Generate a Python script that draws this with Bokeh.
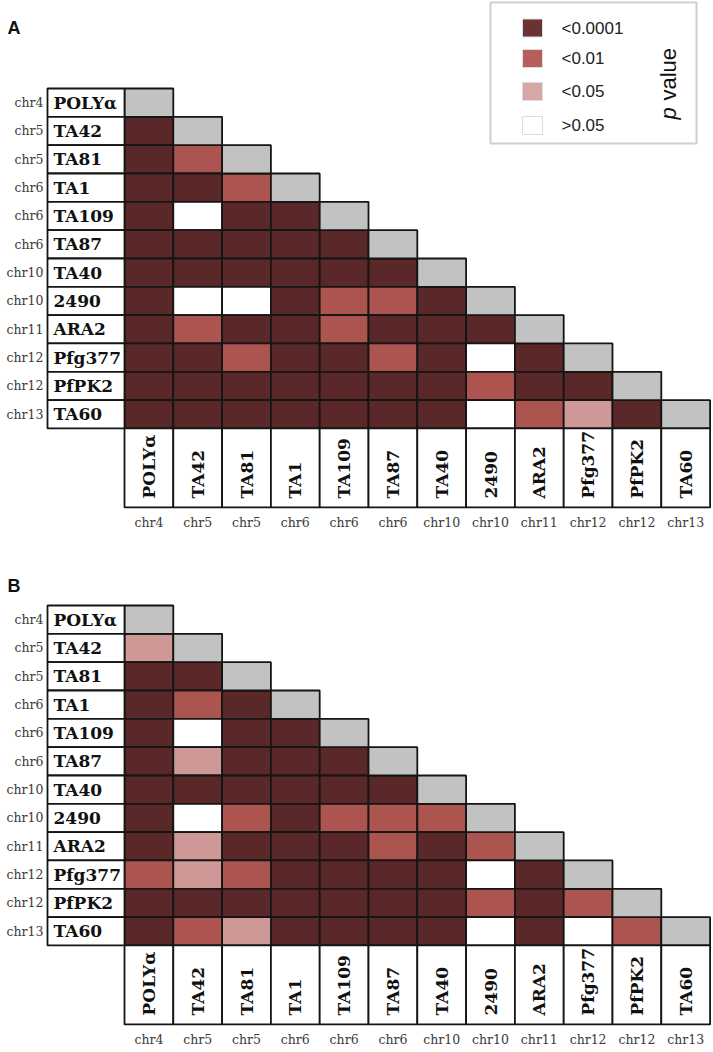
import math
from bokeh.plotting import figure
from bokeh.layouts import column
from bokeh.models import Range1d
from bokeh.core.properties import value
from bokeh.embed import file_html
from bokeh.resources import INLINE

# ---------------- data ----------------
markers = ["POLYα", "TA42", "TA81", "TA1", "TA109", "TA87", "TA40",
           "2490", "ARA2", "Pfg377", "PfPK2", "TA60"]
chroms = ["chr4", "chr5", "chr5", "chr6", "chr6", "chr6", "chr10",
          "chr10", "chr11", "chr12", "chr12", "chr13"]
levels = ["<0.0001", "<0.01", "<0.05", ">0.05"]

# p-value class per pair (row marker i vs column marker j, j < i)
# 0: <0.0001, 1: <0.01, 2: <0.05, 3: >0.05
codes_a = [
    [0],
    [0, 1],
    [0, 0, 1],
    [0, 3, 0, 0],
    [0, 0, 0, 0, 0],
    [0, 0, 0, 0, 0, 0],
    [0, 3, 3, 0, 1, 1, 0],
    [0, 1, 0, 0, 1, 0, 0, 0],
    [0, 0, 1, 0, 0, 1, 0, 3, 0],
    [0, 0, 0, 0, 0, 0, 0, 1, 0, 0],
    [0, 0, 0, 0, 0, 0, 0, 3, 1, 2, 0],
]
codes_b = [
    [2],
    [0, 0],
    [0, 1, 0],
    [0, 3, 0, 0],
    [0, 2, 0, 0, 0],
    [0, 0, 0, 0, 0, 0],
    [0, 3, 1, 0, 1, 1, 1],
    [0, 2, 0, 0, 0, 1, 0, 1],
    [1, 2, 1, 0, 0, 0, 0, 3, 0],
    [0, 0, 0, 0, 0, 0, 0, 1, 0, 1],
    [0, 1, 2, 0, 0, 0, 0, 3, 0, 3, 1],
]

# ---------------- style ----------------
PALETTE = ["#5a2828", "#ab5450", "#cd9896", "#ffffff"]
LEG_PALETTE = ["#6a3230", "#b55e5a", "#d8a6a5", "#ffffff"]
GRAY = "#c2c2c2"
EDGE = "#151515"
SERIF = value("DejaVu Serif")
SANS = value("Liberation Sans")

CW = 48.8      # px per column
RH = 28.33     # px per row
GRID_LEFT = 124  # page px of first column
FIG_W = 713
X_START = (0 - GRID_LEFT) / CW
X_END = (FIG_W - GRID_LEFT) / CW


def make_panel(letter, codes, fig_h, fig_top, grid_top, letter_y, legend=False):
    off = grid_top - fig_top
    p = figure(width=FIG_W, height=fig_h,
               x_range=Range1d(X_START, X_END),
               y_range=Range1d((fig_h - off) / RH, -off / RH),
               output_backend="svg", toolbar_location=None,
               x_axis_location=None, y_axis_location=None,
               min_border=0, background_fill_color="white",
               border_fill_color="white")
    p.grid.visible = False
    p.outline_line_color = None

    n = len(markers)

    def px(xp):
        return (xp - GRID_LEFT) / CW

    def py(yp):
        return (yp - grid_top) / RH

    # off-diagonal cells
    L, R, T, B, C = [], [], [], [], []
    for i, row in enumerate(codes, start=1):
        for j, c in enumerate(row):
            L.append(j); R.append(j + 1); T.append(i); B.append(i + 1)
            C.append(PALETTE[c])
    p.quad(left=L, right=R, top=T, bottom=B, fill_color=C,
           line_color=EDGE, line_width=1.8)
    # diagonal
    idx = list(range(n))
    p.quad(left=idx, right=[k + 1 for k in idx], top=idx,
           bottom=[k + 1 for k in idx], fill_color=GRAY,
           line_color=EDGE, line_width=1.8)

    # row label boxes
    lab_left = px(47)
    p.quad(left=lab_left, right=0, top=idx, bottom=[k + 1 for k in idx],
           fill_color="white", line_color=EDGE, line_width=1.8)
    p.text(x=lab_left + 6 / CW, y=[k + 0.5 for k in idx], text=markers,
           text_font=SERIF, text_font_style="bold", text_font_size="17px",
           text_align="left", text_baseline="middle", text_color="#111111")
    p.text(x=lab_left - 4 / CW, y=[k + 0.5 for k in idx], text=chroms,
           text_font=SERIF, text_font_size="12.5px", text_align="right",
           text_baseline="middle", text_color="#3a3a3a")

    # column label boxes
    box_h = 79 / RH
    p.quad(left=idx, right=[k + 1 for k in idx], top=n, bottom=n + box_h,
           fill_color="white", line_color=EDGE, line_width=1.8)
    p.text(x=[k + 0.5 for k in idx], y=n + box_h - 9 / RH, text=markers,
           angle=math.pi / 2, text_font=SERIF, text_font_style="bold",
           text_font_size="17px", text_align="left", text_baseline="middle",
           text_color="#111111")
    p.text(x=[k + 0.5 for k in idx], y=n + box_h + 15 / RH, text=chroms,
           text_font=SERIF, text_font_size="12.5px", text_align="center",
           text_baseline="middle", text_color="#3a3a3a")

    # panel letter
    p.text(x=px(7), y=py(letter_y), text=[letter], text_font=SANS,
           text_font_style="bold", text_font_size="18px", text_align="left",
           text_baseline="middle", text_color="#111111")

    if legend:
        p.quad(left=px(490), right=px(696), top=py(2), bottom=py(143),
               fill_color="white", line_color="#cfcfcf", line_width=2)
        ys = [py(v) for v in (27.5, 58, 91, 125)]
        p.quad(left=px(522), right=px(542),
               top=[y - 9 / RH for y in ys], bottom=[y + 9 / RH for y in ys],
               fill_color=LEG_PALETTE, line_color="#dddddd", line_width=1)
        p.text(x=px(561), y=ys, text=levels, text_font=SANS,
               text_font_size="17px", text_align="left",
               text_baseline="middle", text_color="#222222")
        base_y = py(119)
        p.text(x=px(668), y=base_y, text=["p"], angle=math.pi / 2,
               text_font=SANS, text_font_style="italic",
               text_font_size="22px", text_align="left",
               text_baseline="middle", text_color="#111111")
        p.text(x=px(668), y=base_y - 19 / RH, text=["value"],
               angle=math.pi / 2, text_font=SANS, text_font_size="22px",
               text_align="left", text_baseline="middle",
               text_color="#111111")
    return p


pa = make_panel("A", codes_a, 560, 0, 88, 27, legend=True)
pb = make_panel("B", codes_b, 490, 560, 605, 585)
layout = column(pa, pb, spacing=0)

open("out.html", "w").write(file_html(layout, INLINE))
